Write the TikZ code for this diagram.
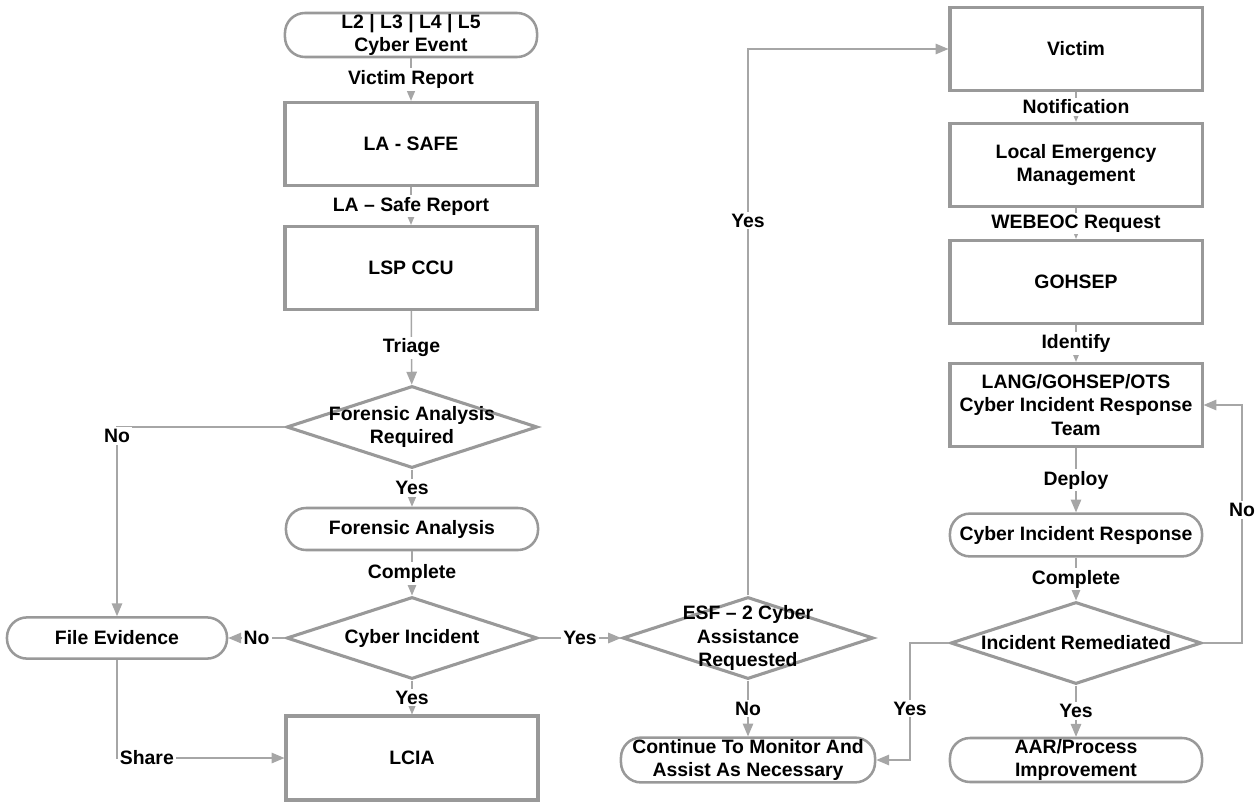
\documentclass[tikz,border=0pt]{standalone}
\usepackage{fontspec}
\setmainfont{Liberation Sans}
\usepackage{tikz}
\usetikzlibrary{arrows,shapes,backgrounds,fit}

\begin{document}
\begin{tikzpicture}[x=0.025cm,y=-0.025cm]
		\tikzstyle{every node}=[font=\bfseries\fontsize{13.8}{16.7}\selectfont, align=center]
		\tikzstyle{process}=[draw=black!40, line width=2.2pt, minimum width=6.3cm, minimum height=2.08cm]
		\tikzstyle{terminal}=[draw=black!40, line width=1.8pt, rounded corners=0.5cm, inner sep=0pt, minimum width=6.3cm, minimum height=1.1cm]
		\tikzstyle{decision}=[diamond, draw=black!40, line width=2.2pt, inner sep=0pt, minimum width=6.27cm, minimum height=2.05cm]
		\tikzstyle{flow}=[draw=black!35, line width=1.1pt, -triangle 45]
		\tikzstyle{edge_text}=[fill=white, inner sep=1.5pt]

		\useasboundingbox (0,0) rectangle (1256,802);

		\begin{scope}
			\node [terminal] (event) at (411,35) {L2 | L3 | L4 | L5\\Cyber Event};
			\node [process] (lasafe) at (411,144) {LA - SAFE};
			\node [process] (lspccu) at (411,268) {LSP CCU};
			\node [decision, label={center:{Forensic Analysis\\Required}}] (farequired) at (412,427) {};
			\node [terminal, minimum height=1.05cm] (forensic) at (412,529) {Forensic Analysis};
			\node [decision, label={center:Cyber Incident}] (incident) at (412,638) {};
			\node [terminal, minimum width=5.5cm, minimum height=1.03cm] (evidence) at (117,638) {File Evidence};
			\node [process, minimum height=2.1cm] (lcia) at (412,758) {LCIA};
		\end{scope}

		\begin{scope}
			\node [decision, label={center:{ESF -- 2 Cyber\\Assistance\\Requested}}] (esf) at (748,638) {};
			\node [terminal, minimum width=6.35cm, minimum height=1.12cm] (monitor) at (748,760) {Continue To Monitor And\\Assist As Necessary};
		\end{scope}

		\begin{scope}
			\node [process] (victim) at (1076,49) {Victim};
			\node [process] (localem) at (1076,165) {Local Emergency\\Management};
			\node [process] (gohsep) at (1076,282) {GOHSEP};
			\node [process] (cirteam) at (1076,405) {LANG/GOHSEP/OTS\\Cyber Incident Response\\Team};
			\node [terminal, minimum height=1.07cm] (response) at (1076,535) {Cyber Incident Response};
			\node [decision, label={center:Incident Remediated}] (remediated) at (1076,643) {};
			\node [terminal, minimum height=1.1cm] (aar) at (1076,760) {AAR/Process\\Improvement};
		\end{scope}

		\draw [flow] (event) -- node [edge_text] {Victim Report} (lasafe);
		\draw [flow] (lasafe) -- node [edge_text] {LA -- Safe Report} (lspccu);
		\draw [flow] (lspccu) -- node [edge_text] {Triage} (farequired);
		\draw [flow] (farequired) -- node [edge_text] {Yes} (forensic);
		\draw [flow] (farequired.west) -| node [edge_text, yshift=-0.22cm] {No} (evidence.north);
		\draw [flow] (forensic) -- node [edge_text] {Complete} (incident);
		\draw [flow] (incident.west) -- node [edge_text] {No} (evidence.east);
		\draw [flow] (incident) -- node [edge_text] {Yes} (lcia);
		\draw [flow] (evidence.south) |- node [edge_text, pos=0.5, anchor=west] {Share} (lcia.west);
		\draw [flow] (incident.east) -- node [edge_text] {Yes} (esf.west);
		\draw [flow] (esf.north) |- node [edge_text, pos=0.343] {Yes} (victim.west);
		\draw [flow] (esf) -- node [edge_text] {No} (monitor);

		\draw [flow] (victim) -- node [edge_text] {Notification} (localem);
		\draw [flow] (localem) -- node [edge_text] {WEBEOC Request} (gohsep);
		\draw [flow] (gohsep) -- node [edge_text] {Identify} (cirteam);
		\draw [flow] (cirteam) -- node [edge_text] {Deploy} (response);
		\draw [flow] (response) -- node [edge_text] {Complete} (remediated);
		\draw [flow] (remediated) -- node [edge_text] {Yes} (aar);
		\draw [flow] (remediated.east) -- ++(39,0) |- node [edge_text, pos=0.28] {No} (cirteam.east);
		\draw [flow] (remediated.west) -- ++(-39,0) |- node [edge_text, pos=0.28] {Yes} (monitor.east);

	\end{tikzpicture}
\end{document}
